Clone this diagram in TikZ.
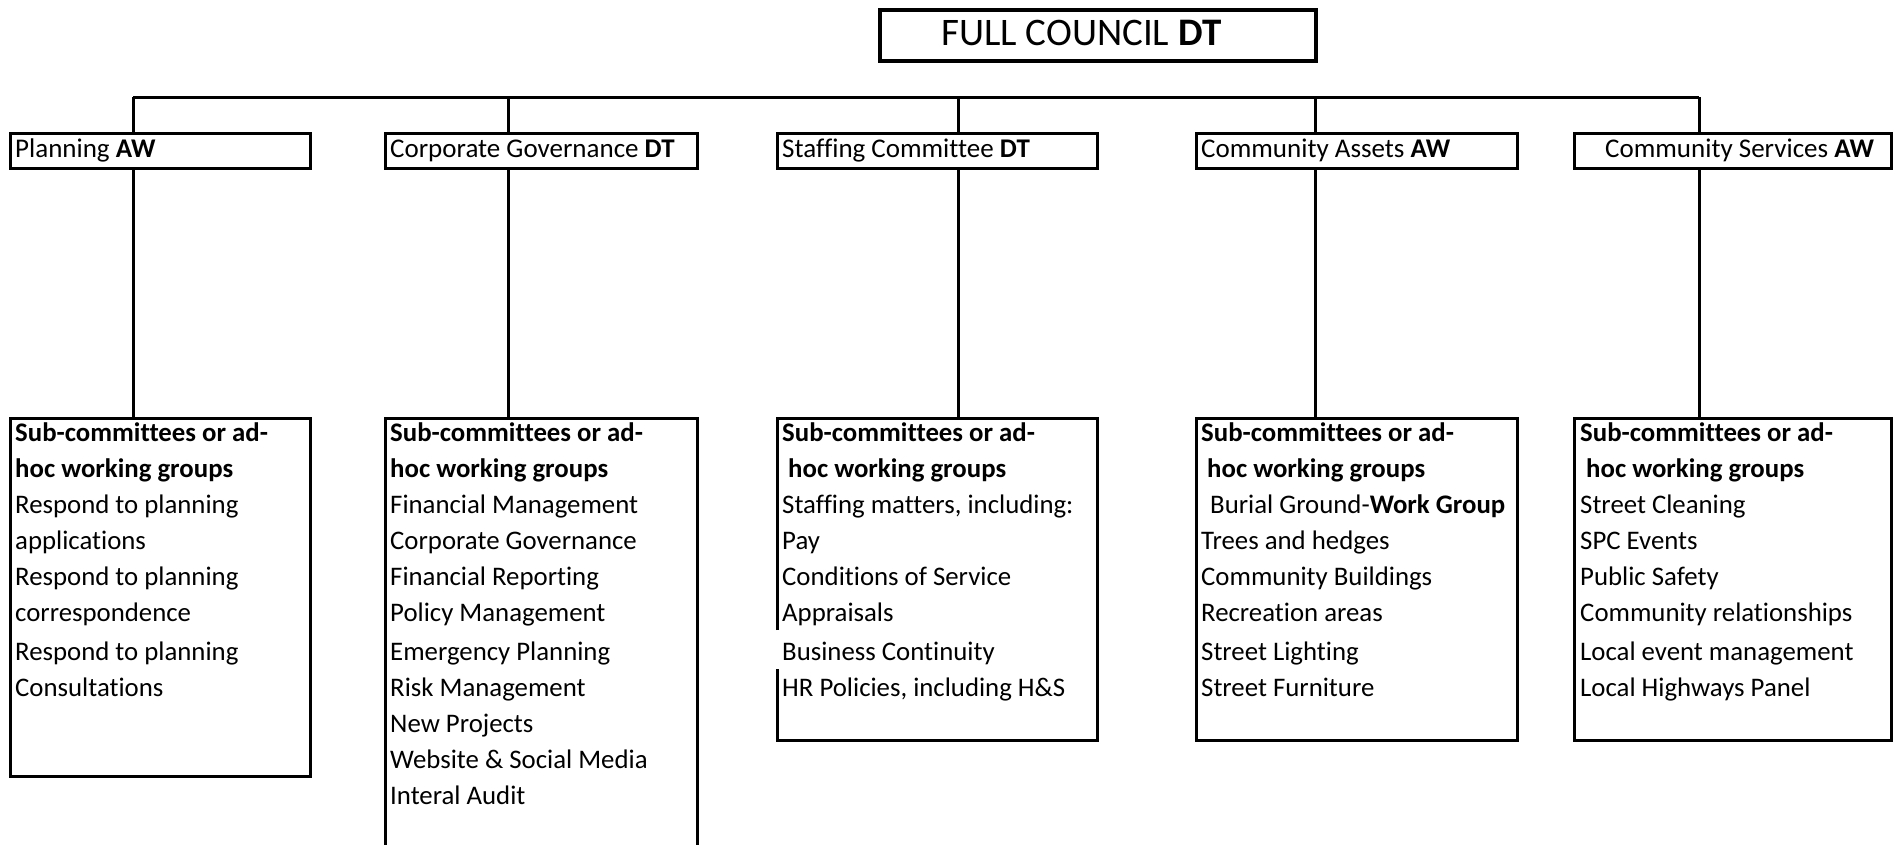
\documentclass[tikz,border=0pt]{standalone}
\usepackage{fontspec}
\setmainfont{Carlito}[Ligatures=NoCommon]
\newcommand\boxlines[3]{%
  \foreach \t [count=\i] in {#3} {%
    \pgfmathsetmacro\yy{441+36*(\i-1)+(\i>6?3:0)}%
    \node[body,anchor=base west] (#1-\i) at (#2,\yy) {\t};
  }%
}
\begin{document}
\begin{tikzpicture}[x=1pt,y=-1pt,
  line/.style={line width=3pt},
  box/.style={inner sep=0pt,outer sep=0pt,anchor=north west},
  drawnbox/.style={box,draw,line width=3pt},
  head/.style={font=\fontsize{27pt}{32pt}\selectfont,inner sep=0pt,anchor=west,text height=18pt,text depth=5pt},
  body/.style={font=\fontsize{26.8pt}{32pt}\selectfont,inner sep=0pt}
]
\useasboundingbox (0,0) rectangle (1898,844);
\clip (0,0) rectangle (1898,844);

% top box
\node[box,draw,line width=3.8pt,minimum width=436pt,minimum height=51pt] (top) at (880,10) {};
\node[font=\fontsize{39pt}{46pt}\selectfont,inner sep=0pt,anchor=west,text height=26pt,text depth=7pt] (toptext) at (941,36) {FULL COUNCIL \textbf{DT}};

% level-2 boxes
\node[drawnbox,minimum width=300pt,minimum height=35pt] (p1) at (10,133) {};
\node[drawnbox,minimum width=312pt,minimum height=35pt] (c1) at (385,133) {};
\node[drawnbox,minimum width=320pt,minimum height=35pt] (s1) at (777,133) {};
\node[drawnbox,minimum width=321pt,minimum height=35pt] (a1) at (1196,133) {};
\node[drawnbox,minimum width=317pt,minimum height=35pt] (v1) at (1574,133) {};

\node[head] (p1t) at (15,151) {Planning \textbf{AW}};
\node[head] (c1t) at (390,151) {Corporate Governance \textbf{DT}};
\node[head] (s1t) at (782,151) {Staffing Committee \textbf{DT}};
\node[head] (a1t) at (1201,151) {Community Assets \textbf{AW}};
\node[head] (v1t) at (1605,151) {Community Services \textbf{AW}};

% level-3 boxes
\node[drawnbox,minimum width=300pt,minimum height=358pt] (p2) at (10,418) {};
\node[box,minimum width=312pt,minimum height=440pt] (c2) at (385,418) {};
\node[box,minimum width=320pt,minimum height=322pt] (s2) at (777,418) {};
\node[drawnbox,minimum width=321pt,minimum height=322pt] (a2) at (1196,418) {};
\node[drawnbox,minimum width=317pt,minimum height=322pt] (v2) at (1574,418) {};

\draw[line] (c2.south west) -- (c2.north west) -- (c2.north east) -- (c2.south east);
\coordinate (sgapA) at (777,630);
\coordinate (sgapB) at (777,669);
\draw[line] (sgapA) -- (s2.north west) -- (s2.north east) -- (s2.south east) -- (s2.south west) -- (sgapB);

% bus and drops
\coordinate (d1) at (133,97);
\coordinate (d2) at (508,97);
\coordinate (d3) at (958,97);
\coordinate (d4) at (1315,97);
\coordinate (d5) at (1699,97);
\draw[line] (d1) -- (d5);
\draw[line] (d1) -- (d1 |- p1.north);
\draw[line] (d2) -- (d2 |- c1.north);
\draw[line] (d3) -- (d3 |- s1.north);
\draw[line] (d4) -- (d4 |- a1.north);
\draw[line] (d5) -- (d5 |- v1.north);
\draw[line] (d1 |- p1.south) -- (d1 |- p2.north);
\draw[line] (d2 |- c1.south) -- (d2 |- c2.north);
\draw[line] (d3 |- s1.south) -- (d3 |- s2.north);
\draw[line] (d4 |- a1.south) -- (d4 |- a2.north);
\draw[line] (d5 |- v1.south) -- (d5 |- v2.north);

% texts
\boxlines{pl}{15}{{\textbf{Sub-committees or ad-}},{\textbf{hoc working groups}},{Respond to planning},{applications},{Respond to planning},{correspondence},{Respond to planning},{Consultations}}
\boxlines{cg}{390}{{\textbf{Sub-committees or ad-}},{\textbf{hoc working groups}},{Financial Management},{Corporate Governance},{Financial Reporting},{Policy Management},{Emergency Planning},{Risk Management},{New Projects},{Website \& Social Media},{Interal Audit}}
\boxlines{st}{782}{{\textbf{Sub-committees or ad-}},{\hspace*{6pt}\textbf{hoc working groups}},{Staffing matters, including:},{Pay},{Conditions of Service},{Appraisals},{Business Continuity},{HR Policies, including H\&S}}
\boxlines{ca}{1201}{{\textbf{Sub-committees or ad-}},{\hspace*{6pt}\textbf{hoc working groups}},{\hspace*{9pt}Burial Ground-\textbf{Work Group}},{Trees and hedges},{Community Buildings},{Recreation areas},{Street Lighting},{Street Furniture}}
\boxlines{cs}{1580}{{\textbf{Sub-committees or ad-}},{\hspace*{6pt}\textbf{hoc working groups}},{Street Cleaning},{SPC Events},{Public Safety},{Community relationships},{Local event management},{Local Highways Panel}}
\end{tikzpicture}
\end{document}
